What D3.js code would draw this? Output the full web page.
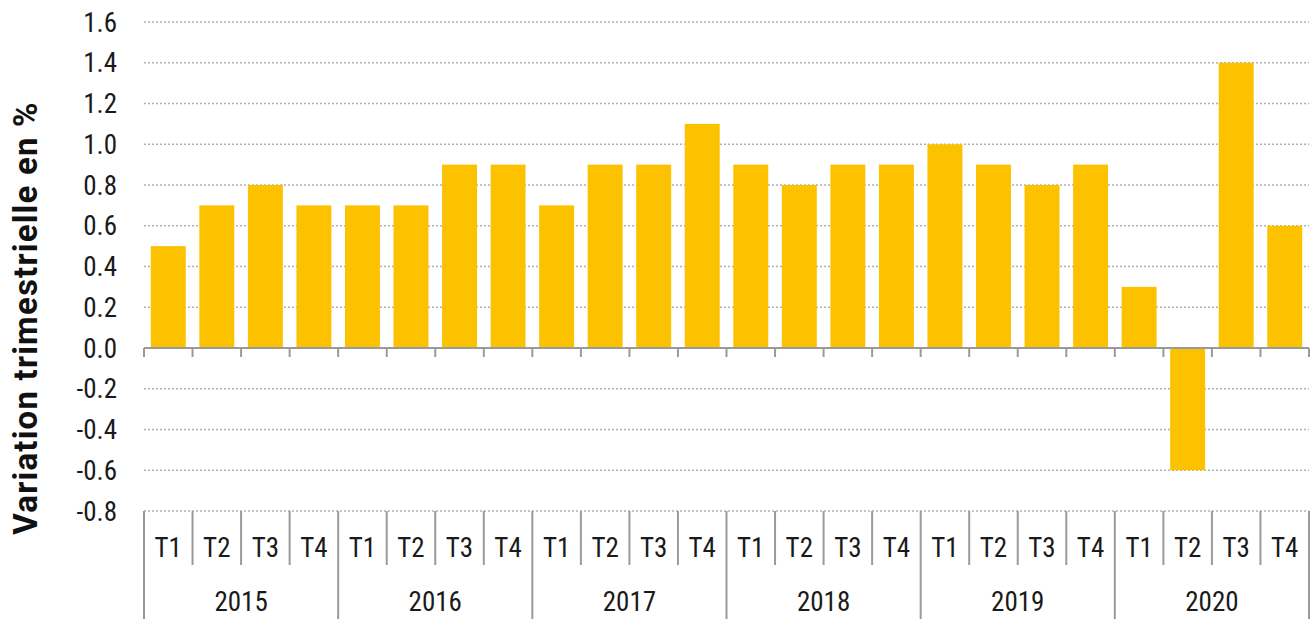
<!DOCTYPE html>
<html>
<head>
<meta charset="utf-8">
<script src="https://cdn.jsdelivr.net/npm/d3@7"></script>
<style>
  body { margin: 0; background: #fff; }
  svg text.lbl { font-family: "Roboto", sans-serif; font-stretch: condensed; font-weight: 400; fill: #1a1a1a; }
</style>
</head>
<body>
<svg id="chart" width="1314" height="619"></svg>
<script>
// data
const years = ["2015", "2016", "2017", "2018", "2019", "2020"];
const quarters = ["T1", "T2", "T3", "T4"];
const values = [
    0.5, 0.7, 0.8, 0.7,
    0.7, 0.7, 0.9, 0.9,
    0.7, 0.9, 0.9, 1.1,
    0.9, 0.8, 0.9, 0.9,
    1.0, 0.9, 0.8, 0.9,
    0.3, -0.6, 1.4, 0.6
];
const yTicks = [1.6, 1.4, 1.2, 1.0, 0.8, 0.6, 0.4, 0.2, 0.0, -0.2, -0.4, -0.6, -0.8];

const svg = d3.select("svg#chart");
const plotLeft = 144, plotRight = 1309, plotTop = 22, plotBottom = 511;
const axisColor = "#9a9a9a";

const rows = values.map((v, i) => ({
    key: years[Math.floor(i / 4)] + "-" + quarters[i % 4],
    year: years[Math.floor(i / 4)],
    q: quarters[i % 4],
    v: v
}));

const x = d3.scaleBand()
    .domain(rows.map(d => d.key))
    .range([plotLeft, plotRight])
    .paddingInner(0.28)
    .paddingOuter(0.14);

const y = d3.scaleLinear().domain([-0.8, 1.6]).range([plotBottom, plotTop]);

// gridlines
svg.append("g").selectAll("line")
    .data(yTicks)
    .join("line")
    .attr("x1", plotLeft).attr("x2", plotRight)
    .attr("y1", d => y(d)).attr("y2", d => y(d))
    .attr("stroke", "#b0b0b0")
    .attr("stroke-width", 1.5)
    .attr("stroke-dasharray", "2,2");

// tick labels
svg.append("g").selectAll("text")
    .data(yTicks)
    .join("text")
    .attr("class", "lbl")
    .attr("x", 117)
    .attr("y", d => y(d))
    .attr("dy", "0.36em")
    .attr("text-anchor", "end")
    .attr("font-size", 27)
    .text(d => d3.format(".1f")(d).replace("−", "-"));

// bars
svg.append("g").selectAll("rect")
    .data(rows)
    .join("rect")
    .attr("x", d => x(d.key))
    .attr("width", x.bandwidth())
    .attr("y", d => y(Math.max(0, d.v)))
    .attr("height", d => Math.abs(y(d.v) - y(0)))
    .attr("fill", "#fcc200");

// zero axis with ticks
const edges = d3.range(rows.length + 1).map(i => plotLeft + i * (plotRight - plotLeft) / rows.length);
svg.append("line")
    .attr("x1", plotLeft).attr("x2", plotRight)
    .attr("y1", y(0)).attr("y2", y(0))
    .attr("stroke", axisColor).attr("stroke-width", 2);
svg.append("g").selectAll("line")
    .data(edges)
    .join("line")
    .attr("x1", d => d).attr("x2", d => d)
    .attr("y1", y(0)).attr("y2", y(0) + 9)
    .attr("stroke", axisColor).attr("stroke-width", 2);

// category axis at bottom
svg.append("g").selectAll("line")
    .data(edges)
    .join("line")
    .attr("x1", d => d).attr("x2", d => d)
    .attr("y1", plotBottom)
    .attr("y2", (d, i) => i % 4 === 0 ? 619 : 565)
    .attr("stroke", axisColor).attr("stroke-width", 2);

svg.append("g").selectAll("text")
    .data(rows)
    .join("text")
    .attr("class", "lbl")
    .attr("x", d => x(d.key) + x.bandwidth() / 2)
    .attr("y", 557)
    .attr("text-anchor", "middle")
    .attr("font-size", 27)
    .text(d => d.q);

svg.append("g").selectAll("text")
    .data(years)
    .join("text")
    .attr("class", "lbl")
    .attr("x", (d, i) => (edges[i * 4] + edges[i * 4 + 4]) / 2)
    .attr("y", 611)
    .attr("text-anchor", "middle")
    .attr("font-size", 27)
    .text(d => d);

// axis title
svg.append("text")
    .attr("transform", "translate(37,318) rotate(-90)")
    .attr("text-anchor", "middle")
    .attr("font-size", 33)
    .attr("font-weight", "bold")
    .attr("letter-spacing", 1.2)
    .style("font-family", "Roboto, sans-serif")
    .style("fill", "#111")
    .text("Variation trimestrielle en %");
</script>
</body>
</html>
